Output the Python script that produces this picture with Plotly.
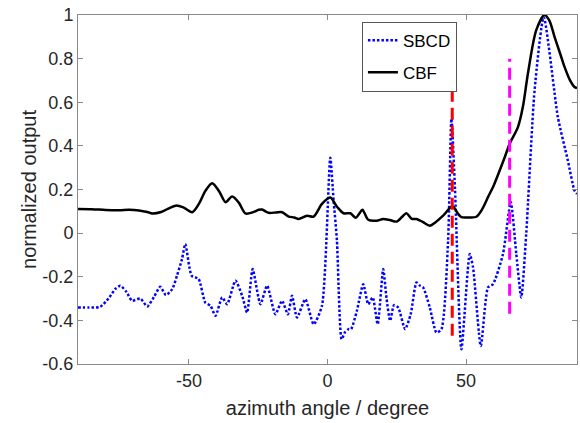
import plotly.graph_objects as go

# ---- data ----
sbcd_angle = [-90, -86, -82, -79, -76.5, -74.7, -72.5, -70.5, -67.5, -65, -62.5, -60.3, -58.3, -56,
              -54.3, -52.5, -51.3, -49, -46.5, -44.1, -42.2, -40.4, -38, -36.2, -33.2, -30.8, -29,
              -27, -24.2, -21.8, -18.8, -16.4, -14.3, -12.8, -11, -8, -5, -2, 1, 2.2, 3.4, 5.1, 6.3,
              7.6, 8.5, 10.6, 12.9, 14.7, 16.3, 18.1, 20.1, 21.3, 22.6, 24, 25.5, 28, 30, 32.1, 33.3,
              34.5, 36.9, 39.3, 41.1, 43.5, 44.7, 46, 48.3, 51.3, 52.5, 55.3, 57.9, 59.7, 63.3,
              66.1, 68.1, 69.9, 71.7, 74.7, 78, 83.1, 86.7, 89.1, 90]
sbcd_value = [-0.341, -0.341, -0.338, -0.30, -0.255, -0.241, -0.27, -0.31, -0.30, -0.336, -0.29,
              -0.246, -0.284, -0.257, -0.195, -0.12, -0.05, -0.195, -0.21, -0.318, -0.333, -0.379,
              -0.295, -0.326, -0.218, -0.287, -0.364, -0.165, -0.326, -0.241, -0.372, -0.31, -0.372,
              -0.287, -0.387, -0.303, -0.418, -0.333, 0.345, 0.15, -0.034, -0.486, -0.455, -0.44,
              -0.44, -0.356, -0.234, -0.326, -0.295, -0.418, -0.165, -0.30, -0.402, -0.33, -0.341,
              -0.44, -0.372, -0.226, -0.24, -0.249, -0.341, -0.456, -0.44, -0.034, 0.525, 0.2,
              -0.532, -0.096, -0.157, -0.517, -0.249, -0.234, -0.096, 0.142, -0.096, -0.295, 0.0,
              0.655, 0.99, 0.532, 0.333, 0.195, 0.18]

cbf_angle = [-90, -85, -80, -75, -71.6, -68, -65, -63.2, -60, -57, -54.8, -52, -48.8, -46.4, -44,
             -41.6, -39, -36.8, -34.4, -32, -29.6, -27, -24.8, -23.6, -21.2, -18.5, -16.4, -14, -12,
             -10.4, -7.4, -5, -2, 1, 3.5, 5.8, 8.2, 10.2, 11.5, 12.6, 14.7, 17.7, 20.1, 22.5, 25,
             27.3, 28.5, 30.4, 32.1, 34.5, 36.9, 39, 41.7, 45.1, 47, 48.3, 51, 53.7, 55.8, 57.9, 60,
             62.1, 64, 65.7, 68.7, 70.5, 72.3, 75.3, 78.3, 80, 81.9, 84, 85.5, 87.5, 89.1, 90]
cbf_value = [0.111, 0.110, 0.106, 0.105, 0.107, 0.104, 0.097, 0.090, 0.097, 0.115, 0.126, 0.118,
             0.096, 0.134, 0.195, 0.229, 0.19, 0.142, 0.168, 0.14, 0.090, 0.095, 0.107, 0.108,
             0.093, 0.095, 0.096, 0.076, 0.072, 0.065, 0.080, 0.076, 0.134, 0.163, 0.12, 0.091,
             0.091, 0.07, 0.09, 0.107, 0.061, 0.057, 0.065, 0.060, 0.053, 0.08, 0.091, 0.065,
             0.065, 0.05, 0.034, 0.05, 0.08, 0.123, 0.09, 0.073, 0.072, 0.075, 0.11, 0.165, 0.22,
             0.287, 0.35, 0.41, 0.486, 0.58, 0.732, 0.931, 1.0, 0.975, 0.9, 0.82, 0.762, 0.70,
             0.67, 0.665]

red_line_angle = [45, 45]
red_line_value = [-0.47, 0.69]
magenta_line_angle = [65.7, 65.7]
magenta_line_value = [-0.37, 0.80]

x_tick_vals = [-50, 0, 50]
x_tick_text = ["-50", "0", "50"]
y_tick_vals = [-0.6, -0.4, -0.2, 0, 0.2, 0.4, 0.6, 0.8, 1]
y_tick_text = ["-0.6", "-0.4", "-0.2", "0", "0.2", "0.4", "0.6", "0.8", "1"]

FONT = "Liberation Sans, Arial, sans-serif"
TXT = "#262626"

fig = go.Figure()
fig.add_trace(go.Scatter(x=sbcd_angle, y=sbcd_value, mode="lines", name="SBCD",
                         legendgroup="a",
                         line=dict(color="#0000ff", width=2.5, dash="2.5px,2px", shape="spline",
                                   smoothing=0.6)))
fig.add_trace(go.Scatter(x=cbf_angle, y=cbf_value, mode="lines", name="CBF",
                         legendgroup="b",
                         line=dict(color="#000000", width=2.5, shape="spline", smoothing=0.8)))
fig.add_trace(go.Scatter(x=red_line_angle, y=red_line_value, mode="lines", showlegend=False,
                         line=dict(color="#ff0000", width=3, dash="12px,6px")))
fig.add_trace(go.Scatter(x=magenta_line_angle, y=magenta_line_value, mode="lines",
                         showlegend=False,
                         line=dict(color="#ff00ff", width=3, dash="12px,6px")))

axis_common = dict(showgrid=False, zeroline=False, showline=True, linecolor="#8a8a8a",
                   linewidth=1, mirror="ticks", ticks="inside", ticklen=5, tickcolor="#8a8a8a",
                   automargin=False,
                   tickfont=dict(family=FONT, size=18, color=TXT))

fig.update_xaxes(range=[-90, 90], tickmode="array", tickvals=x_tick_vals, ticktext=x_tick_text,
                 title=dict(text="azimuth angle / degree", font=dict(family=FONT, size=20,
                                                                     color=TXT), standoff=11),
                 **axis_common)
fig.update_yaxes(range=[-0.6, 1], tickmode="array", tickvals=y_tick_vals, ticktext=y_tick_text,
                 title=dict(text="normalized output", font=dict(family=FONT, size=20,
                                                                 color=TXT), standoff=0),
                 **axis_common)

fig.update_layout(
    width=580, height=423,
    margin=dict(l=78, r=3, t=15, b=59),
    paper_bgcolor="white", plot_bgcolor="white",
    font=dict(family=FONT, color=TXT),
    showlegend=True,
    legend=dict(x=0.569, y=0.981, xanchor="left", yanchor="top",
                bgcolor="white", bordercolor="#555555", borderwidth=1,
                font=dict(family=FONT, size=17, color="#000000"),
                tracegroupgap=7),
)

fig.write_html("out.html", config={"displayModeBar": False},
               post_script="document.body.style.margin='0';document.body.style.padding='0';")
